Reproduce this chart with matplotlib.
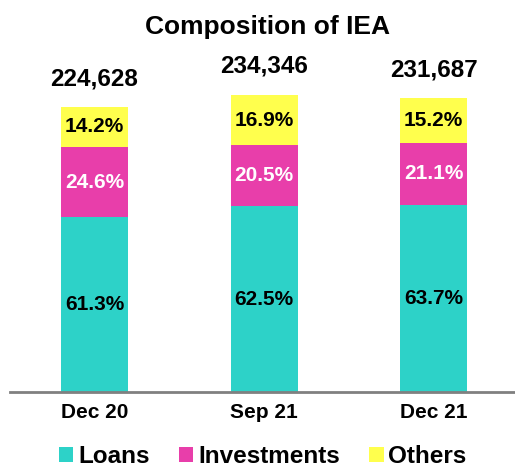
import numpy as np
import matplotlib.pyplot as plt

plt.rcParams['font.family'] = ['Liberation Sans', 'DejaVu Sans']

periods = ['Dec 20', 'Sep 21', 'Dec 21']
totals = [224628, 234346, 231687]
loans_pct = [61.3, 62.5, 63.7]
invest_pct = [24.6, 20.5, 21.1]
others_pct = [14.2, 16.9, 15.2]

c_loans = '#2dd2c8'
c_inv = '#e83eaa'
c_oth = '#ffff4d'

totals = np.array(totals, dtype=float)
loans = totals * np.array(loans_pct) / 100
inv = totals * np.array(invest_pct) / 100
oth = totals * np.array(others_pct) / 100

fig = plt.figure(figsize=(5.15, 4.7), dpi=100)
ax = fig.add_axes([0.02, 0.166, 0.98, 0.702])
x = np.arange(len(periods))
w = 0.395

b1 = ax.bar(x, loans, w, color=c_loans, label='Loans')
b2 = ax.bar(x, inv, w, bottom=loans, color=c_inv, label='Investments')
b3 = ax.bar(x, oth, w, bottom=loans + inv, color=c_oth, label='Others')

# segment labels
for i in range(len(x)):
    ax.text(x[i], loans[i] / 2, f'{loans_pct[i]:.1f}%', ha='center', va='center',
            fontsize=15, fontweight='bold', color='black')
    ax.text(x[i], loans[i] + inv[i] / 2, f'{invest_pct[i]:.1f}%', ha='center', va='center',
            fontsize=15, fontweight='bold', color='white')
    ax.text(x[i], loans[i] + inv[i] + oth[i] / 2, f'{others_pct[i]:.1f}%', ha='center',
            va='center', fontsize=15, fontweight='bold', color='black')
    ax.annotate(f'{int(totals[i]):,}', (x[i], totals[i]), xytext=(0, 12),
                textcoords='offset points', ha='center', va='bottom',
                fontsize=17.5, fontweight='bold')

ax.set_xlim(-0.497, 2.48)
ax.set_ylim(0, 260000)
ax.set_xticks(x)
ax.set_xticklabels(periods, fontsize=15, fontweight='bold')
ax.tick_params(axis='x', length=0, pad=8)
ax.set_yticks([])
for s in ['top', 'right', 'left']:
    ax.spines[s].set_visible(False)
ax.spines['bottom'].set_color('#808080')
ax.spines['bottom'].set_linewidth(2)

fig.text(0.52, 0.942, 'Composition of IEA', ha='center', va='center',
         fontsize=19, fontweight='bold')

fig.legend(handles=[b1, b2, b3], loc='center', bbox_to_anchor=(0.51, 0.028),
           ncol=3, frameon=False, handlelength=0.6, handleheight=0.6,
           handletextpad=0.2, columnspacing=1.2, borderpad=0.1,
           prop={'size': 17.5, 'weight': 'bold'})

fig.savefig('out.png', dpi=100)
